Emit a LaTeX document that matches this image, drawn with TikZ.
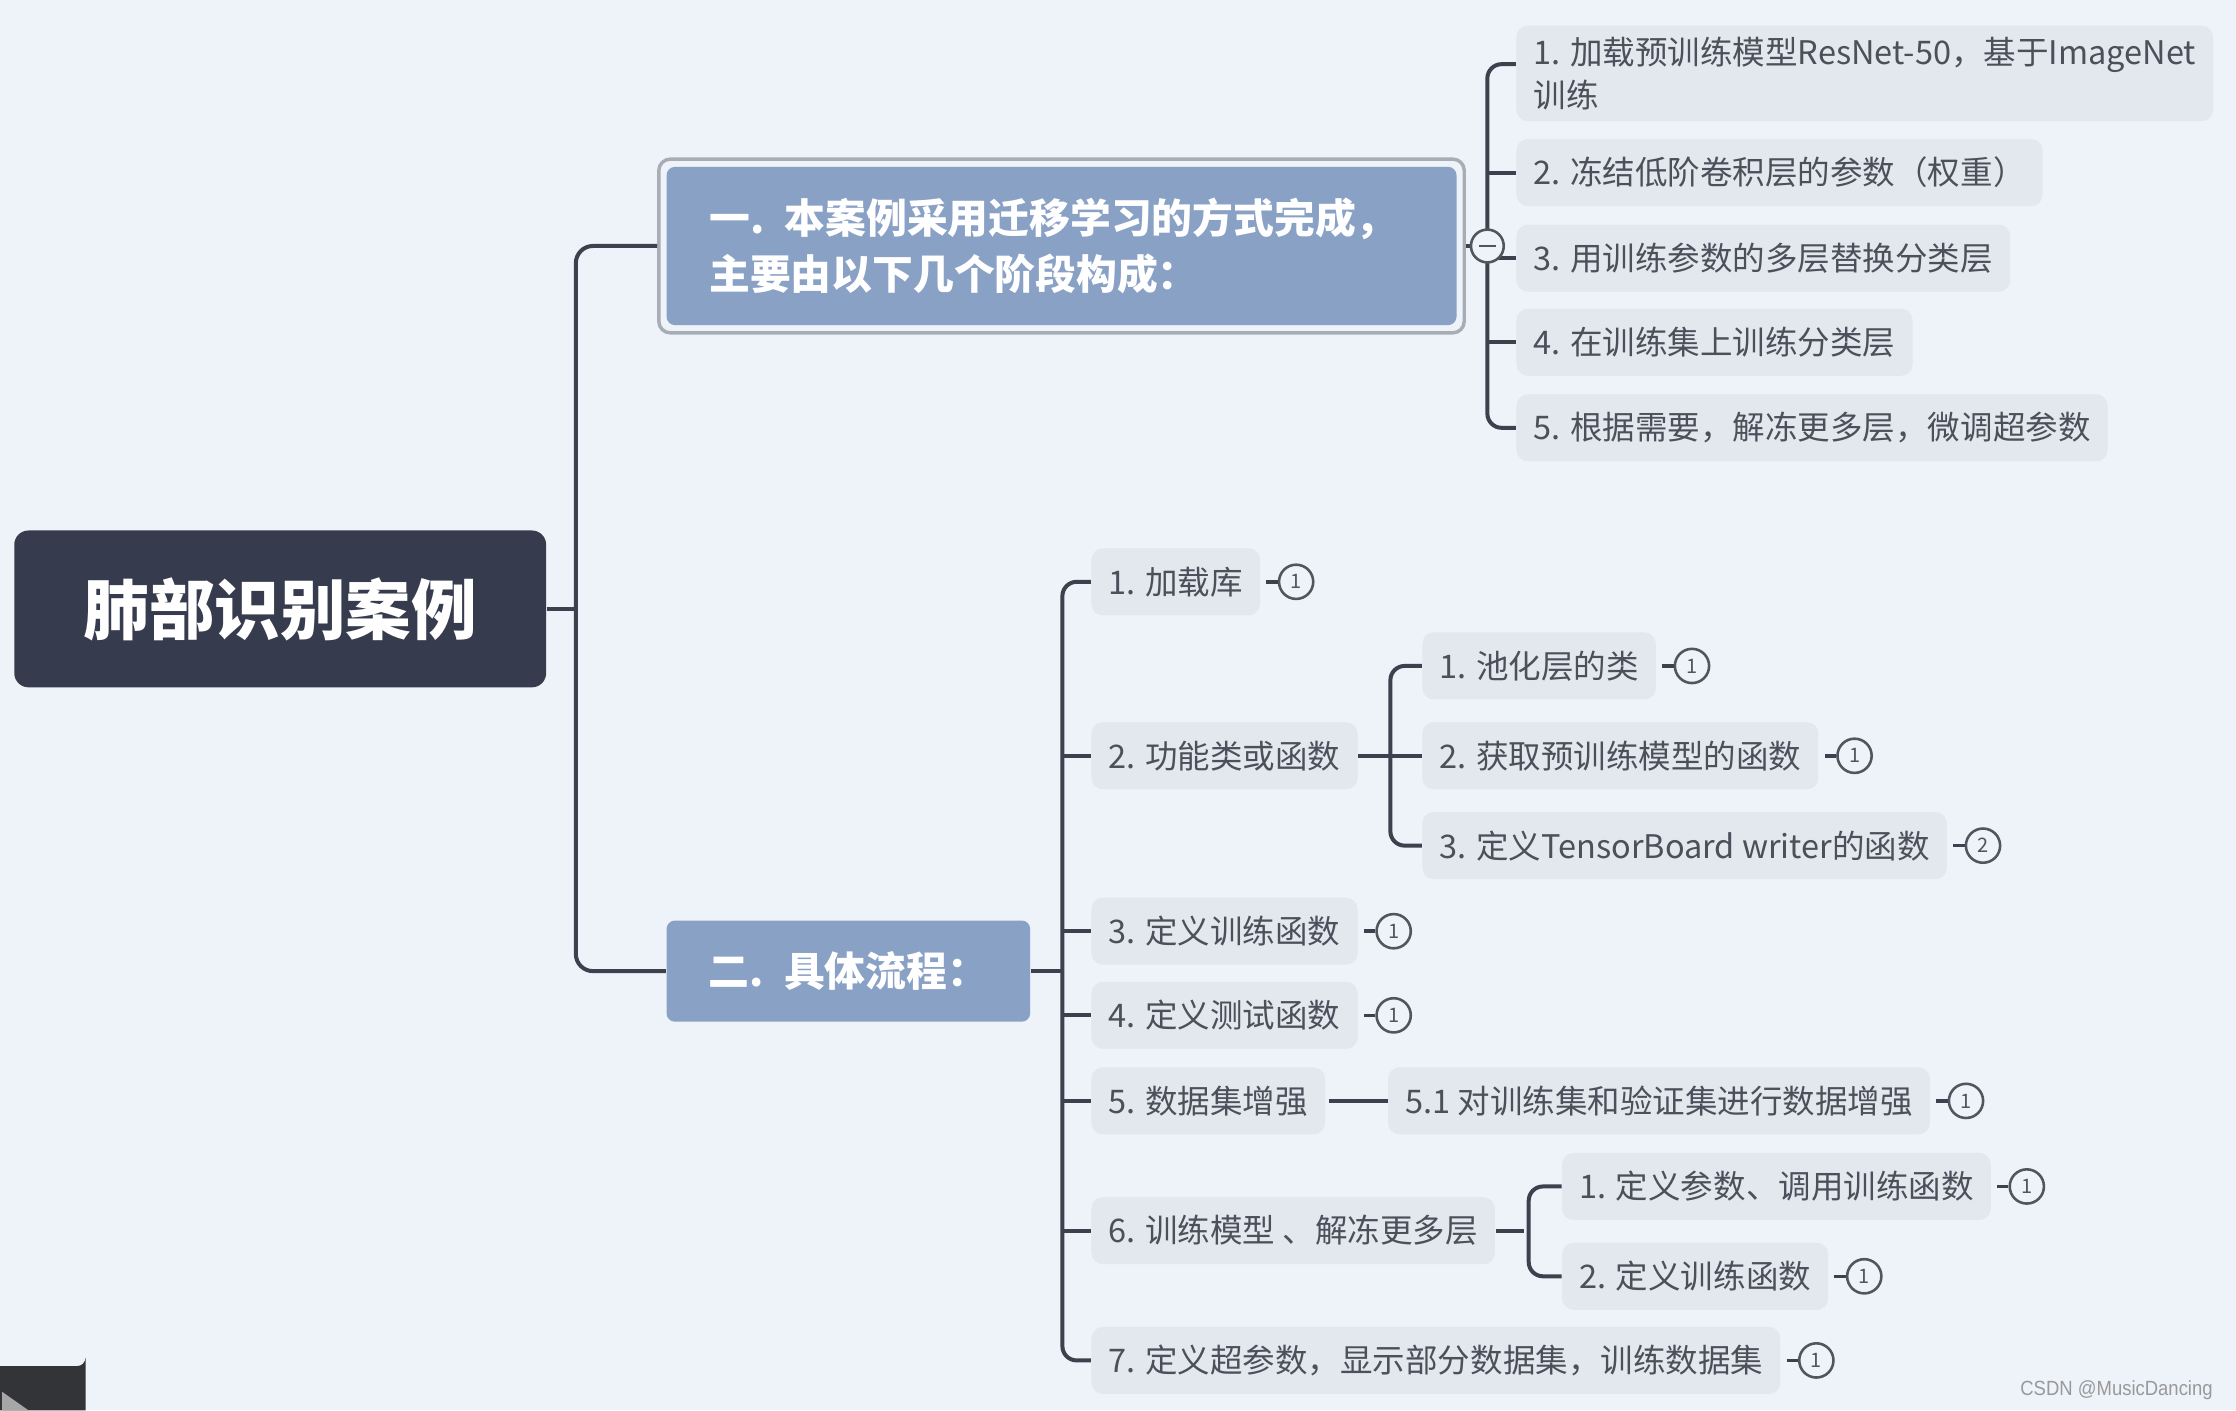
\documentclass[tikz,border=0pt]{standalone}
\usepackage{fontspec}
\setmainfont{Noto Sans CJK SC}
\newfontfamily\wmfont{Liberation Sans}
\usetikzlibrary{positioning,fit}
\definecolor{bgC}{HTML}{EEF2F9}
\definecolor{rootC}{HTML}{363C4E}
\definecolor{blueC}{HTML}{8AA1C6}
\definecolor{itemF}{HTML}{E3E7EE}
\definecolor{itemT}{HTML}{4B505B}
\definecolor{lineC}{HTML}{3C414D}
\definecolor{badgeC}{HTML}{50555F}
\definecolor{frameC}{HTML}{A8ACB4}
\begin{document}
\begin{tikzpicture}[x=0.5pt,y=-0.5pt,
  conn/.style={draw=lineC, line width=1.4pt},
  item/.style={fill=itemF, rounded corners=4pt, text=itemT, font=\fontsize{11.4}{15}\selectfont, minimum height=23.5pt, inner xsep=6pt, anchor=west},
  badge/.style={circle, draw=badgeC, line width=0.9pt, minimum size=12pt, inner sep=0pt, font=\fontsize{7}{7}\selectfont, text=badgeC},
  blink/.style={draw=lineC, line width=1.2pt, shorten <=2pt},
  topic/.style={fill=blueC, rounded corners=3pt, text=white, font=\bfseries\fontsize{14.3}{19.5}\selectfont, inner xsep=15pt, align=left, anchor=west}
]
\fill[bgC] (0,0) rectangle (1568,989);
\useasboundingbox (0,0) rectangle (1568,989);

% root
\node[fill=rootC, rounded corners=5pt, text=white, font=\bfseries\fontsize{23}{28}\selectfont, minimum width=186.5pt, minimum height=55pt] (root) at (196.5,427) {肺部识别案例};

% level 1
\node[topic, text width=247pt, minimum height=55.5pt] (n1) at (467,172.5) {一. 本案例采用迁移学习的方式完成，\\主要由以下几个阶段构成：};
\node[fit=(n1), inner sep=2.5pt, draw=frameC, line width=1.2pt, rounded corners=4pt] (n1f) {};
\node[topic, inner xsep=8.75pt, text width=110pt, minimum height=35.5pt] (n2) at (467,681) {\hspace*{6pt}二. 具体流程：};

\coordinate (t) at (405,427);
\draw[conn] (root.east) -- (t);
\draw[conn, rounded corners=6pt] (n1f.west) -- ++(-28.5pt,0) |- (n2.west);

% children of n1
\node[item, align=left, minimum height=33.5pt] (c1) at (1063,51.5) {1. 加载预训练模型ResNet-50，基于ImageNet\\训练};
\node[item] (c2) at (1063,121) {2. 冻结低阶卷积层的参数（权重）};
\node[item] (c3) at (1063,181) {3. 用训练参数的多层替换分类层};
\node[item] (c4) at (1063,240) {4. 在训练集上训练分类层};
\node[item] (c5) at (1063,300) {5. 根据需要，解冻更多层，微调超参数};
\draw[conn, rounded corners=5pt] ([yshift=3.25pt]c1.west) -- ++(-10pt,0) |- (c5.west);
\foreach \n in {c2,c3,c4} \draw[conn] (\n.west) -- ++(-10pt,0);
\coordinate (b1) at (1043,172.5);
\draw[conn] (n1f.east) -- (b1);
\node[circle, fill=bgC, draw=badgeC, line width=0.9pt, minimum size=11.5pt, inner sep=0pt] (col) at (b1) {};
\draw[badgeC, line width=0.9pt] ([xshift=-3pt]col.center) -- ([xshift=3pt]col.center);

% children of n2
\node[item] (d1) at (765,408) {1. 加载库};
\node[item] (d2) at (765,530) {2. 功能类或函数};
\node[item] (d3) at (765,653) {3. 定义训练函数};
\node[item] (d4) at (765,712) {4. 定义测试函数};
\node[item] (d5) at (765,772) {5. 数据集增强};
\node[item] (d6) at (765,863) {6. 训练模型 、解冻更多层};
\node[item] (d7) at (765,954) {7. 定义超参数，显示部分数据集，训练数据集};
\coordinate (b2) at (745,681);
\draw[conn] (n2.east) -- (b2);
\draw[conn, rounded corners=5pt] (d1.west) -- ++(-10pt,0) |- (d7.west);
\foreach \n in {d2,d3,d4,d5,d6} \draw[conn] (\n.west) -- ++(-10pt,0);

% children of d2
\node[item] (e1) at (997,467) {1. 池化层的类};
\node[item] (e2) at (997,530) {2. 获取预训练模型的函数};
\node[item] (e3) at (997,593) {3. 定义TensorBoard writer的函数};
\draw[conn] (d2.east) -- (e2.west);
\draw[conn, rounded corners=5pt] (e1.west) -- ++(-11pt,0) |- (e3.west);

% child of d5
\node[item] (e4) at (973,772) {5.1 对训练集和验证集进行数据增强};
\draw[conn, shorten <=1pt] (d5.east) -- (e4.west);

% children of d6
\node[item] (f1) at (1095,832) {1. 定义参数、调用训练函数};
\node[item] (f2) at (1095,895) {2. 定义训练函数};
\draw[conn] (d6.east) -- ++(10pt,0);
\draw[conn, rounded corners=5pt] (f1.west) -- ++(-11.5pt,0) |- (f2.west);

% badges
\foreach \n/\k in {d1/1,e1/1,e2/1,e3/2,d3/1,d4/1,e4/1,f1/1,f2/1,d7/1} {
  \node[badge, right=6pt of \n] (bd\n) {\k};
  \draw[blink] (\n.east) -- (bd\n.west);
}

% watermark
\node[anchor=east, text=gray!80, font=\wmfont\fontsize{7.2}{8}\selectfont, xscale=0.9] (wm) at (1558,975) {CSDN @MusicDancing};

% player corner
\fill[fill={rgb,255:red,50;green,52;blue,56}] (0,989) -- (0,958) -- (54,958) arc[start angle=90, end angle=0, radius=6] -- (60,989) -- cycle;
\fill[gray!70] (1.5,976) -- (20,989) -- (1.5,989) -- cycle;
\end{tikzpicture}
\end{document}
